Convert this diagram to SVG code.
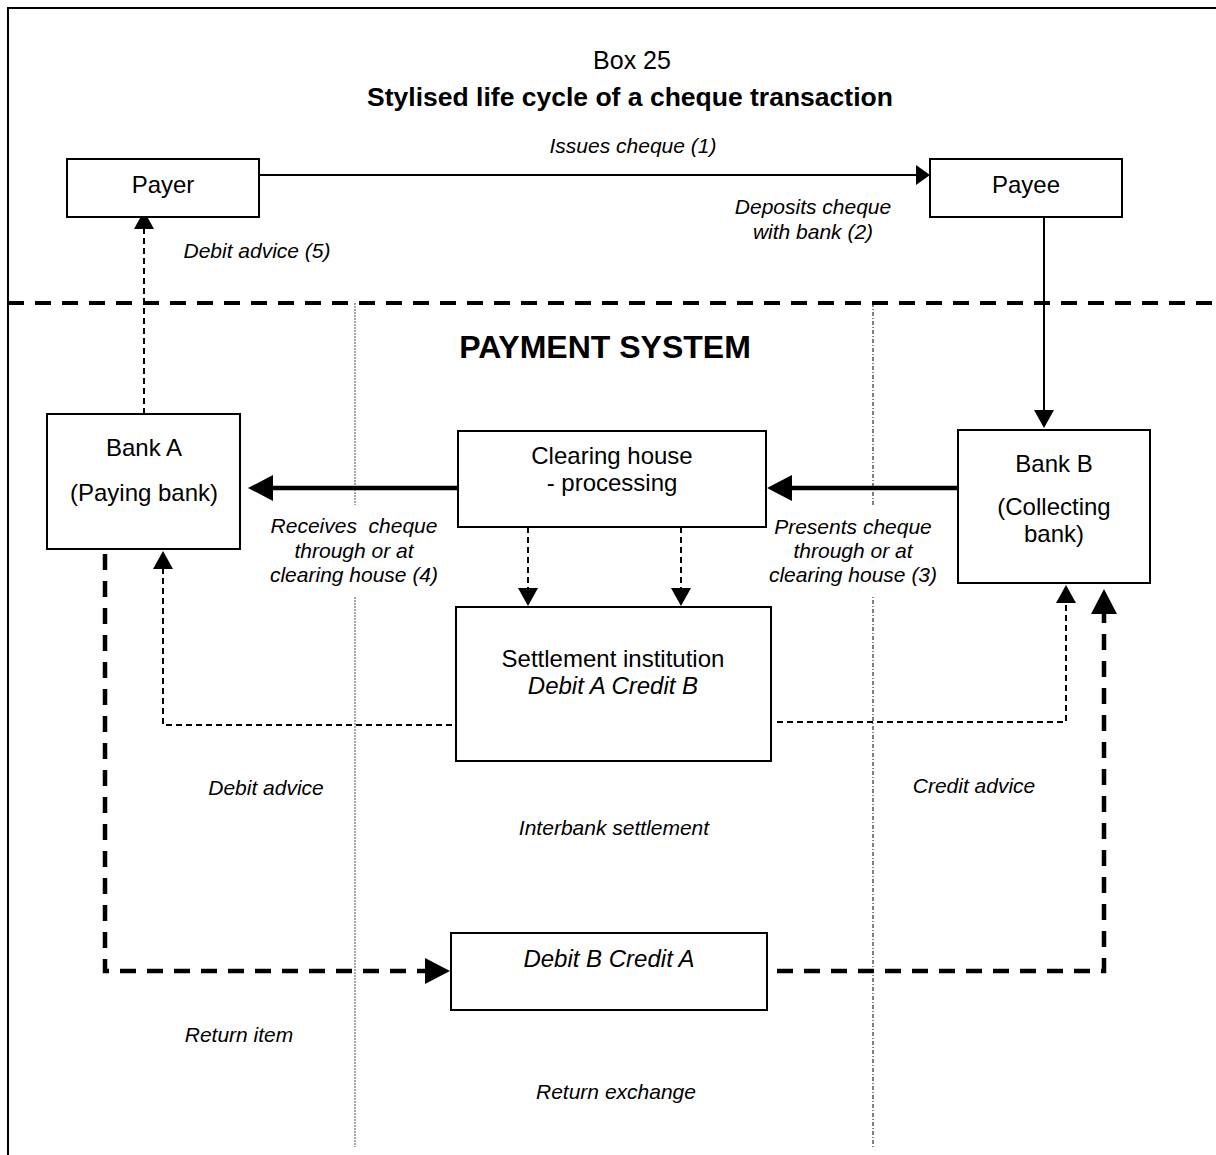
<svg xmlns="http://www.w3.org/2000/svg" width="1216" height="1155" viewBox="0 0 1216 1155">
<style>
.bx{fill:#fff;stroke:#000;stroke-width:2}
.t{font-family:"Liberation Sans",Arial,sans-serif;font-size:24px;fill:#000;text-anchor:middle}
.i{font-family:"Liberation Sans",Arial,sans-serif;font-size:21px;font-style:italic;fill:#000;text-anchor:middle}
.bi{font-style:italic}
.ln{fill:none;stroke:#000;stroke-width:2}
.thk{fill:none;stroke:#000;stroke-width:4.5}
.dsh{fill:none;stroke:#000;stroke-width:2;stroke-dasharray:6 4}
.tdsh{fill:none;stroke:#000;stroke-width:4.5;stroke-dasharray:16 11}
.bg{fill:#fff;stroke:none}
</style>
<defs>
<marker id="a" markerUnits="userSpaceOnUse" viewBox="0 0 14 20" markerWidth="14" markerHeight="20" refX="0" refY="10" orient="auto"><path d="M0,0L14,10L0,20z" fill="#000"/></marker>
<marker id="ad" markerUnits="userSpaceOnUse" viewBox="0 0 18 20" markerWidth="18" markerHeight="20" refX="0" refY="10" orient="auto"><path d="M0,0L18,10L0,20z" fill="#000"/></marker>
<marker id="ab" markerUnits="userSpaceOnUse" viewBox="0 0 25 26" markerWidth="25" markerHeight="26" refX="0" refY="13" orient="auto"><path d="M0,0L25,13L0,26z" fill="#000"/></marker>
</defs>
<rect width="1216" height="1155" fill="#fff"/>
<path d="M8,1155V8H1216" class="ln"/>
<text x="632" y="69" class="t" style="font-size:25px">Box 25</text>
<text x="630" y="106" class="t" style="font-size:26.5px;font-weight:bold">Stylised life cycle of a cheque transaction</text>
<text x="605" y="358" class="t" style="font-size:32px;font-weight:bold">PAYMENT SYSTEM</text>
<g id="dividers">
<path d="M8,303H1216" class="tdsh" style="stroke-width:4"/>
<path d="M355,303V1147" style="fill:none;stroke:#888;stroke-width:1.5;stroke-dasharray:2 1"/>
<path d="M873,303V1147" style="fill:none;stroke:#000;stroke-width:1;stroke-dasharray:4 2 1 2"/>
<rect x="262" y="505" width="186" height="92" class="bg"/>
<rect x="768" y="505" width="180" height="92" class="bg"/>
</g>
<g id="connectors">
<path d="M259,175H916" class="ln" marker-end="url(#a)"/>
<path d="M1044,217V410" class="ln" marker-end="url(#ad)"/>
<path d="M144,414V229" class="dsh" marker-end="url(#ad)"/>
<path d="M458,488H273" class="thk" marker-end="url(#ab)"/>
<path d="M958,488H792" class="thk" marker-end="url(#ab)"/>
<path d="M528,527V588" class="dsh" marker-end="url(#ad)"/>
<path d="M681,527V588" class="dsh" marker-end="url(#ad)"/>
<path d="M452,725H163V569" class="dsh" marker-end="url(#ad)"/>
<path d="M777,722H1066V603" class="dsh" marker-end="url(#ad)"/>
<path d="M105,554V971H425" class="tdsh" marker-end="url(#ab)"/>
<path d="M777,971H1104V614" class="tdsh" marker-end="url(#ab)"/>
</g>
<g id="payer"><rect x="67" y="159" width="192" height="58" class="bx"/><text x="163" y="193" class="t">Payer</text></g>
<g id="payee"><rect x="930" y="159" width="192" height="58" class="bx"/><text x="1026" y="193" class="t">Payee</text></g>
<g id="bankA"><rect x="47" y="414" width="193" height="135" class="bx"/><text x="144" y="456" class="t">Bank A</text><text x="144" y="501" class="t">(Paying bank)</text></g>
<g id="bankB"><rect x="958" y="430" width="192" height="153" class="bx"/><text x="1054" y="472" class="t">Bank B</text><text x="1054" y="515" class="t">(Collecting</text><text x="1054" y="542" class="t">bank)</text></g>
<g id="clearing"><rect x="458" y="431" width="308" height="96" class="bx"/><text x="612" y="464" class="t">Clearing house</text><text x="612" y="491" class="t">- processing</text></g>
<g id="settlement"><rect x="456" y="607" width="315" height="154" class="bx"/><text x="613" y="667" class="t">Settlement institution</text><text x="613" y="694" class="t bi">Debit A Credit B</text></g>
<g id="returnbox"><rect x="451" y="933" width="316" height="77" class="bx"/><text x="609" y="967" class="t bi">Debit B Credit A</text></g>
<g id="labels">
<text x="633" y="153" class="i">Issues cheque (1)</text>
<text x="813" y="214" class="i">Deposits cheque</text>
<text x="813" y="239" class="i">with bank (2)</text>
<text x="257" y="258" class="i">Debit advice (5)</text>
<text x="354" y="533" class="i" xml:space="preserve">Receives  cheque</text>
<text x="354" y="558" class="i">through or at</text>
<text x="354" y="582" class="i">clearing house (4)</text>
<text x="853" y="534" class="i">Presents cheque</text>
<text x="853" y="558" class="i">through or at</text>
<text x="853" y="582" class="i">clearing house (3)</text>
<text x="266" y="795" class="i">Debit advice</text>
<text x="974" y="793" class="i">Credit advice</text>
<text x="614" y="835" class="i">Interbank settlement</text>
<text x="239" y="1042" class="i">Return item</text>
<text x="616" y="1099" class="i">Return exchange</text>
</g>
</svg>
